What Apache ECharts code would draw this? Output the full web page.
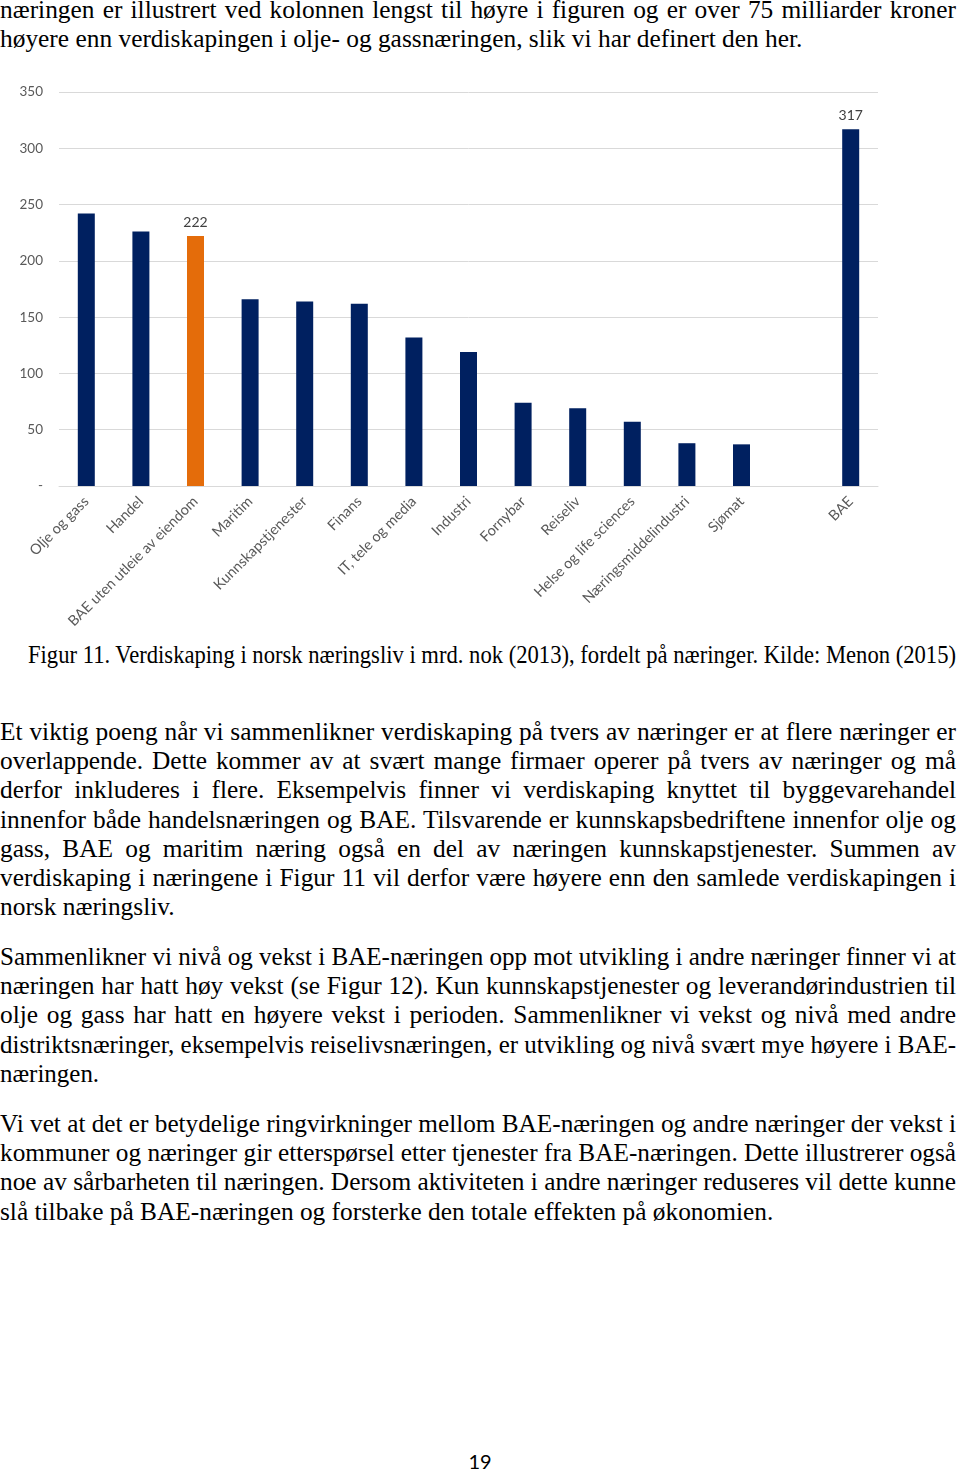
<!DOCTYPE html>
<html>
<head>
<meta charset="utf-8">
<script src="https://cdn.jsdelivr.net/npm/echarts@6/dist/echarts.min.js"></script>
<style>
  html, body { margin: 0; padding: 0; background: #fff; }
  #page { position: relative; width: 960px; height: 1474px; overflow: hidden; }
  .line { position: absolute; white-space: nowrap; font-family: 'Liberation Serif', 'Times New Roman', serif;
          font-size: 25.4px; line-height: 29px; color: #000; transform-origin: 0 0; }
  #chart { position: absolute; left: 0; top: 60px; width: 960px; height: 580px; }
  #pageno { position: absolute; left: 0; width: 960px; top: 1449px; text-align: center;
            font-family: Lato, 'Open Sans', sans-serif; font-size: 20px; color: #000; }
</style>
</head>
<body>
<div id="page">
  <div id="chart"></div>
  <div id="pageno">19</div>
</div>
<script>
const categories = ['Olje og gass', 'Handel', 'BAE uten utleie av eiendom', 'Maritim', 'Kunnskapstjenester',
  'Finans', 'IT, tele og media', 'Industri', 'Fornybar', 'Reiseliv', 'Helse og life sciences',
  'Næringsmiddelindustri', 'Sjømat', '', 'BAE']
const values = [242, 226, 222, 166, 164, 162, 132, 119, 74, 69, 57, 38, 37, null, 317]
const highlighted = ['BAE uten utleie av eiendom']
const labelled = ['BAE uten utleie av eiendom', 'BAE']
const yMin = 0
const yMax = 350
const yStep = 50

// page text, one entry per printed line
const topLines = [
  'næringen er illustrert ved kolonnen lengst til høyre i figuren og er over 75 milliarder kroner',
  'høyere enn verdiskapingen i olje- og gassnæringen, slik vi har definert den her.'
]
const caption = 'Figur 11. Verdiskaping i norsk næringsliv i mrd. nok (2013), fordelt på næringer. Kilde: Menon (2015)'
const para1 = [
  'Et viktig poeng når vi sammenlikner verdiskaping på tvers av næringer er at flere næringer er',
  'overlappende. Dette kommer av at svært mange firmaer operer på tvers av næringer og må',
  'derfor inkluderes i flere. Eksempelvis finner vi verdiskaping knyttet til byggevarehandel',
  'innenfor både handelsnæringen og BAE. Tilsvarende er kunnskapsbedriftene innenfor olje og',
  'gass, BAE og maritim næring også en del av næringen kunnskapstjenester. Summen av',
  'verdiskaping i næringene i Figur 11 vil derfor være høyere enn den samlede verdiskapingen i',
  'norsk næringsliv.'
]
const para2 = [
  'Sammenlikner vi nivå og vekst i BAE-næringen opp mot utvikling i andre næringer finner vi at',
  'næringen har hatt høy vekst (se Figur 12). Kun kunnskapstjenester og leverandørindustrien til',
  'olje og gass har hatt en høyere vekst i perioden. Sammenlikner vi vekst og nivå med andre',
  'distriktsnæringer, eksempelvis reiselivsnæringen, er utvikling og nivå svært mye høyere i BAE-',
  'næringen.'
]
const para3 = [
  'Vi vet at det er betydelige ringvirkninger mellom BAE-næringen og andre næringer der vekst i',
  'kommuner og næringer gir etterspørsel etter tjenester fra BAE-næringen. Dette illustrerer også',
  'noe av sårbarheten til næringen. Dersom aktiviteten i andre næringer reduseres vil dette kunne',
  'slå tilbake på BAE-næringen og forsterke den totale effekten på økonomien.'
]

const page = document.getElementById('page')

function addLine(text, top, left, width, justify, scaleHint) {
  const el = document.createElement('div')
  el.className = 'line'
  el.textContent = text
  el.style.top = top + 'px'
  el.style.left = left + 'px'
  page.appendChild(el)
  const w = el.getBoundingClientRect().width
  let scale = scaleHint || 1
  if (justify) {
    if (w > width) {
      scale = width / w
    } else {
      const spaces = (text.match(/ /g) || []).length
      if (spaces) el.style.wordSpacing = ((width - w) / spaces) + 'px'
      scale = 1
    }
  }
  if (scale !== 1) el.style.transform = 'scaleX(' + scale + ')'
  return scale
}

function addParagraph(lines, firstTop, step) {
  let s = 1
  lines.forEach((t, i) => {
    const last = i === lines.length - 1
    s = addLine(t, firstTop + i * step, 0, 956, !last, last ? s : 1)
  })
}

addParagraph(topLines, -5, 29)
addLine(caption, 640, 28, 928, true)
addParagraph(para1, 717, 29.2)
addParagraph(para2, 942, 29.2)
addParagraph(para3, 1109, 29.2)

const chart = echarts.init(document.getElementById('chart'))
const axisFont = { fontFamily: 'Lato, "Open Sans", sans-serif', fontSize: 13.5, color: '#595959' }

chart.setOption({
  animation: false,
  grid: { left: 59, right: 82, top: 32, bottom: 154 },
  xAxis: {
    type: 'category',
    data: categories,
    axisLine: { show: true, lineStyle: { color: '#d9d9d9' } },
    axisTick: { show: false },
    axisLabel: Object.assign({ rotate: 45, interval: 0, margin: 13 }, axisFont, { fontSize: 14.5 })
  },
  yAxis: {
    type: 'value',
    min: yMin,
    max: yMax,
    interval: yStep,
    axisLine: { show: false },
    axisTick: { show: false },
    splitLine: { lineStyle: { color: '#d9d9d9' } },
    axisLabel: Object.assign({
      margin: 16,
      formatter: v => (v === 0 ? '-' : String(v))
    }, axisFont)
  },
  series: [{
    type: 'bar',
    barWidth: 17,
    data: values.map((v, i) => ({
      value: v,
      itemStyle: { color: highlighted.includes(categories[i]) ? '#E46C0A' : '#002060' },
      label: {
        show: labelled.includes(categories[i]),
        position: 'top',
        distance: 7,
        fontFamily: 'Lato, "Open Sans", sans-serif',
        fontSize: 14,
        color: '#404040'
      }
    }))
  }]
})
</script>
</body>
</html>
